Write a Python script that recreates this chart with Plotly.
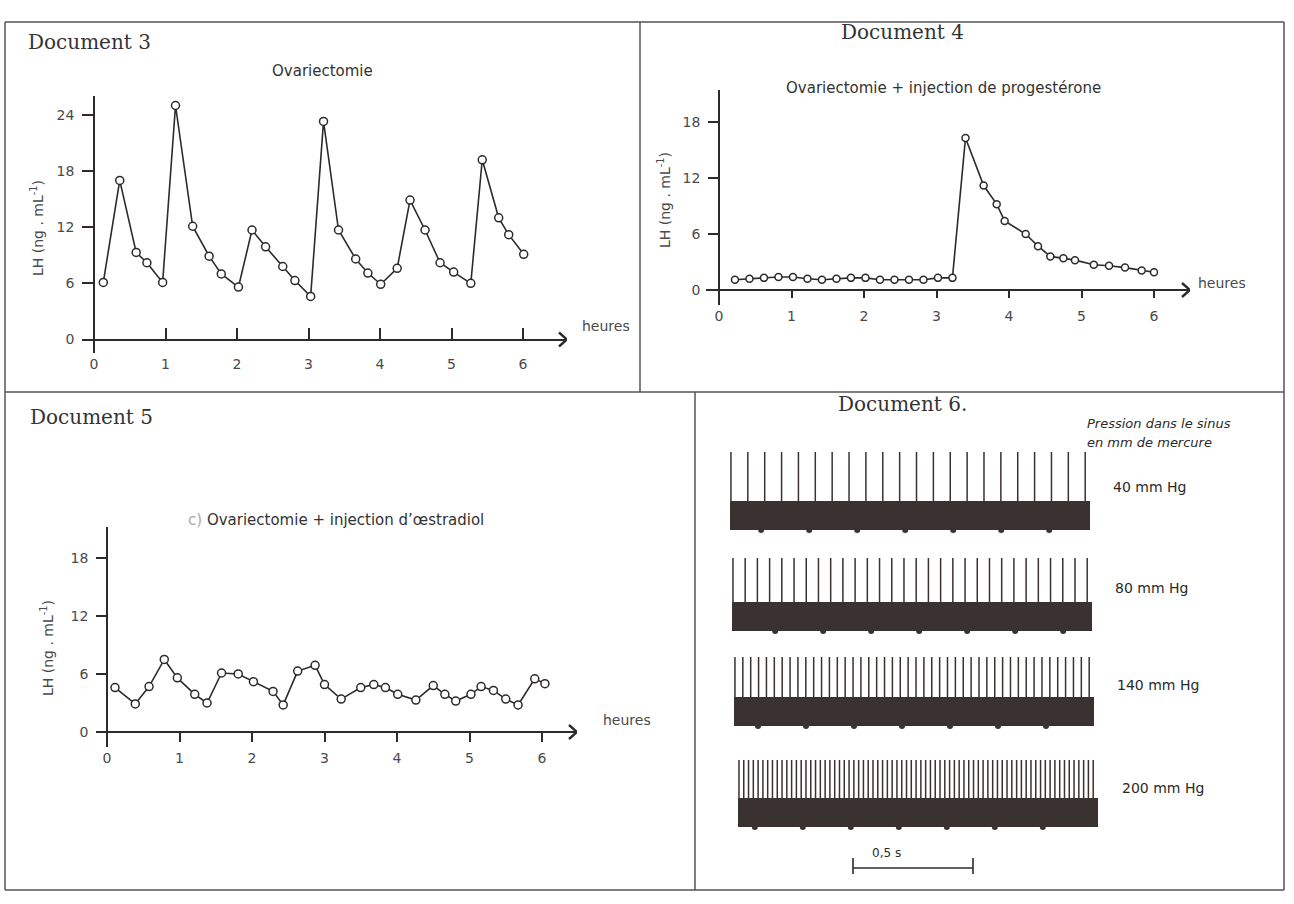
import numpy as np
import plotly.graph_objects as go

W, H = 1294, 904

# ---------------- DATA ----------------
# Document 3 : Ovariectomie
doc3_hours = [0.13, 0.36, 0.59, 0.74, 0.96, 1.14, 1.38, 1.61, 1.78, 2.02,
              2.21, 2.40, 2.64, 2.81, 3.03, 3.21, 3.42, 3.66, 3.83, 4.01,
              4.24, 4.42, 4.63, 4.84, 5.03, 5.27, 5.43, 5.66, 5.80, 6.01]
doc3_lh = [6.1, 17.0, 9.3, 8.2, 6.1, 25.0, 12.1, 8.9, 7.0, 5.6,
           11.7, 9.9, 7.8, 6.3, 4.6, 23.3, 11.7, 8.6, 7.1, 5.9,
           7.6, 14.9, 11.7, 8.2, 7.2, 6.0, 19.2, 13.0, 11.2, 9.1]

# Document 4 : Ovariectomie + injection de progestérone
doc4_hours = [0.22, 0.42, 0.62, 0.82, 1.02, 1.22, 1.42, 1.62, 1.82, 2.02,
              2.22, 2.42, 2.62, 2.82, 3.02, 3.22, 3.40, 3.65, 3.83, 3.94,
              4.23, 4.40, 4.57, 4.75, 4.91, 5.17, 5.38, 5.60, 5.83, 6.00]
doc4_lh = [1.1, 1.2, 1.3, 1.4, 1.4, 1.2, 1.1, 1.2, 1.3, 1.3,
           1.1, 1.1, 1.1, 1.1, 1.3, 1.3, 16.3, 11.2, 9.2, 7.4,
           6.0, 4.7, 3.6, 3.4, 3.2, 2.7, 2.6, 2.4, 2.1, 1.9]

# Document 5 : Ovariectomie + injection d'œstradiol
doc5_hours = [0.11, 0.39, 0.58, 0.79, 0.97, 1.21, 1.38, 1.58, 1.81, 2.02,
              2.29, 2.43, 2.63, 2.87, 3.00, 3.23, 3.50, 3.68, 3.84, 4.01,
              4.26, 4.50, 4.66, 4.81, 5.02, 5.16, 5.33, 5.50, 5.67, 5.90, 6.04]
doc5_lh = [4.6, 2.9, 4.7, 7.5, 5.6, 3.9, 3.0, 6.1, 6.0, 5.2,
           4.2, 2.8, 6.3, 6.9, 4.9, 3.4, 4.6, 4.9, 4.6, 3.9,
           3.3, 4.8, 3.9, 3.2, 3.9, 4.7, 4.3, 3.4, 2.8, 5.5, 5.0]

hour_ticks = [0, 1, 2, 3, 4, 5, 6]
doc3_lh_ticks = [0, 6, 12, 18, 24]
doc45_lh_ticks = [0, 6, 12, 18]

# Document 6 : sinus pressure recordings
doc6_pressures = ["40 mm Hg", "80 mm Hg", "140 mm Hg", "200 mm Hg"]
doc6_spike_counts = [22, 30, 46, 75]        # impulses over the recording
doc6_duration_s = 1.5                       # length of each recording
doc6_timer_first_s = [0.13, 0.18, 0.10, 0.07]
doc6_timer_step_s = 0.2
doc6_scale_s = 0.5

# ---------------- STYLE ----------------
INK = "#2e2a2a"
TXT = "#333333"
TICKTXT = "#4a4a4a"
FRAME = "#555555"
SANS = "DejaVu Sans"
SERIF = "DejaVu Serif"


def px(x):
    return x / W


def py(y):
    return 1 - y / H


def panel(x0px, sx, left, right, y0px, sy, top, bottom):
    return dict(
        xrange=[(left - x0px) / sx, (right - x0px) / sx],
        yrange=[(y0px - bottom) / sy, (y0px - top) / sy],
        xdomain=[px(left), px(right)],
        ydomain=[py(bottom), py(top)],
        xpos=py(y0px),
        ypos=px(x0px),
    )


P3 = panel(94, 71.5, 84, 567, 339.5, 9.36, 96, 353)
P4 = panel(719, 72.5, 706, 1190, 290, 9.33, 90, 305)
P5 = panel(107, 72.5, 96, 577, 732, 9.67, 527, 747)

fig = go.Figure()

marker = dict(symbol="circle", size=8, color="white", line=dict(color=INK, width=1.5))
for i, (xs, ys) in enumerate([(doc3_hours, doc3_lh), (doc4_hours, doc4_lh), (doc5_hours, doc5_lh)]):
    ax = "" if i == 0 else str(i + 1)
    m = dict(marker)
    if i == 1:
        m["size"] = 7
    fig.add_trace(go.Scatter(x=xs, y=ys, mode="lines+markers",
                             line=dict(color=INK, width=1.6), marker=m,
                             xaxis="x" + ax, yaxis="y" + ax, showlegend=False,
                             hoverinfo="skip", cliponaxis=False))


def xaxis_cfg(P, ticks, ticklen, standoff):
    return dict(domain=P["xdomain"], range=P["xrange"], anchor="free", position=P["xpos"],
                showline=True, linecolor=INK, linewidth=1.6, ticks=ticks, ticklen=ticklen,
                tickwidth=1.5, tickcolor=INK, tickvals=hour_ticks, showgrid=False,
                zeroline=False, tickfont=dict(family=SANS, size=14, color=TICKTXT),
                ticklabelstandoff=standoff, fixedrange=True)


def yaxis_cfg(P, vals, ticklen):
    return dict(domain=P["ydomain"], range=P["yrange"], anchor="free", position=P["ypos"],
                showline=True, linecolor=INK, linewidth=1.6, ticks="outside", ticklen=ticklen,
                tickwidth=1.5, tickcolor=INK, tickvals=vals, showgrid=False,
                zeroline=False, tickfont=dict(family=SANS, size=14, color=TICKTXT),
                ticklabelstandoff=5, fixedrange=True)


# ---------------- DOCUMENT 6 ----------------
D6_X0PX, D6_SX = 730, 240.0
d6_left, d6_right, d6_top, d6_bottom = 700, 1282, 430, 885
row_band_top = [501, 602, 697, 798]
row_spike_top = [452, 558, 657, 760]
row_start_px = [730, 732, 734, 738]
BAND_H = 29

shapes = []
spx, spy = [], []
tx, ty = [], []
for r, n in enumerate(doc6_spike_counts):
    s0 = (row_start_px[r] - D6_X0PX) / D6_SX
    shapes.append(dict(type="rect", xref="x4", yref="y4", x0=s0, x1=s0 + doc6_duration_s,
                       y0=row_band_top[r], y1=row_band_top[r] + BAND_H,
                       fillcolor="#3a3131", line=dict(width=0), layer="above"))
    for t in np.linspace(s0 + 0.004, s0 + doc6_duration_s - 0.02, n):
        spx += [t, t, None]
        spy += [row_band_top[r] + 1, row_spike_top[r], None]
    t = s0 + doc6_timer_first_s[r]
    while t < s0 + doc6_duration_s - 0.05:
        tx.append(t)
        ty.append(row_band_top[r] + BAND_H)
        t += doc6_timer_step_s

fig.add_trace(go.Scatter(x=spx, y=spy, mode="lines", line=dict(color="#3a3131", width=1.5),
                         xaxis="x4", yaxis="y4", showlegend=False, hoverinfo="skip"))
fig.add_trace(go.Scatter(x=tx, y=ty, mode="markers",
                         marker=dict(symbol="circle", size=6, color="#3a3131"),
                         xaxis="x4", yaxis="y4", showlegend=False, hoverinfo="skip"))

# scale bar
sb0 = (853 - D6_X0PX) / D6_SX
shapes += [
    dict(type="line", xref="x4", yref="y4", x0=sb0, x1=sb0 + doc6_scale_s, y0=868, y1=868,
         line=dict(color=INK, width=1.6)),
    dict(type="line", xref="x4", yref="y4", x0=sb0, x1=sb0, y0=858, y1=874,
         line=dict(color=INK, width=1.6)),
    dict(type="line", xref="x4", yref="y4", x0=sb0 + doc6_scale_s, x1=sb0 + doc6_scale_s,
         y0=858, y1=874, line=dict(color=INK, width=1.6)),
]

# axis arrows: chevrons anchored at the end of each time axis, sized in pixels
for ax, P in [("", P3), ("2", P4), ("3", P5)]:
    shapes.append(dict(type="path", xref="x" + ax, yref="y" + ax,
                       xsizemode="pixel", ysizemode="pixel",
                       xanchor=P["xrange"][1], yanchor=0,
                       path="M-8,7 L0,0 L-8,-7", line=dict(color=INK, width=2.4)))

# ---------------- FRAME ----------------
def fline(x0, y0, x1, y1):
    return dict(type="line", xref="paper", yref="paper", x0=px(x0), y0=py(y0), x1=px(x1), y1=py(y1),
                line=dict(color=FRAME, width=1.5))

shapes += [
    fline(5, 22, 1284, 22),
    fline(5, 22, 5, 890),
    fline(1284, 22, 1284, 890),
    fline(5, 890, 1284, 890),
    fline(5, 392, 1284, 392),
    fline(640, 22, 640, 392),
    fline(695, 392, 695, 890),
]

# ---------------- TEXT ----------------
ann = []


def text(t, x, y, size=14, family=SANS, color=TXT, xanchor="left", angle=0, **kw):
    ann.append(dict(text=t, x=px(x), y=py(y), xref="paper", yref="paper", showarrow=False,
                    xanchor=xanchor, yanchor="middle", textangle=angle,
                    font=dict(family=family, size=size, color=color), **kw))


text("Document 3", 26, 42, size=20, family=SERIF)
text("Document 4", 902, 32, size=20, family=SERIF, xanchor="center")
text("Document 5", 28, 417, size=20, family=SERIF)
text("Document 6.", 902, 404, size=20, family=SERIF, xanchor="center")

text("Ovariectomie", 322, 71, size=15, xanchor="center")
text("Ovariectomie + injection de progestérone", 943, 88, size=15, xanchor="center")
text("<span style='color:#aaaaaa'>c)</span> Ovariectomie + injection d\u2019œstradiol", 336, 520,
     size=15, xanchor="center")

ylab = "LH (ng . mL<sup>-1</sup>)"
text(ylab, 37, 228, size=14, color=TICKTXT, xanchor="center", angle=-90)
text(ylab, 664, 200, size=14, color=TICKTXT, xanchor="center", angle=-90)
text(ylab, 47, 648, size=14, color=TICKTXT, xanchor="center", angle=-90)

text("heures", 580, 326, size=14, color=TICKTXT)
text("heures", 1196, 283, size=14, color=TICKTXT)
text("heures", 601, 720, size=14, color=TICKTXT)

text("<i>Pression dans le sinus</i>", 1085, 423, size=13, color="#2a2a2a")
text("<i>en mm de mercure</i>", 1085, 443, size=13, color="#2a2a2a")
for lab, x, y in zip(doc6_pressures, [1111, 1113, 1115, 1120], [487, 588, 685, 788]):
    text(lab, x, y, size=14, color="#2a2a2a")
text("0,5 s", 887, 853, size=12, color="#2a2a2a", xanchor="center")

fig.update_layout(
    width=W, height=H, margin=dict(l=0, r=0, t=0, b=0),
    paper_bgcolor="white", plot_bgcolor="rgba(0,0,0,0)",
    xaxis=xaxis_cfg(P3, "inside", 11, 12),
    yaxis=yaxis_cfg(P3, doc3_lh_ticks, 11),
    xaxis2=xaxis_cfg(P4, "outside", 7, 6),
    yaxis2=yaxis_cfg(P4, doc45_lh_ticks, 10),
    xaxis3=xaxis_cfg(P5, "outside", 9, 4),
    yaxis3=yaxis_cfg(P5, doc45_lh_ticks, 10),
    xaxis4=dict(domain=[px(d6_left), px(d6_right)],
                range=[(d6_left - D6_X0PX) / D6_SX, (d6_right - D6_X0PX) / D6_SX],
                visible=False, anchor="y4", fixedrange=True),
    yaxis4=dict(domain=[py(d6_bottom), py(d6_top)], range=[d6_bottom, d6_top],
                visible=False, anchor="x4", fixedrange=True),
    shapes=shapes, annotations=ann, showlegend=False,
)

fig.write_html("out.html", post_script="document.body.style.margin='0px';",
               config={"displayModeBar": False})
